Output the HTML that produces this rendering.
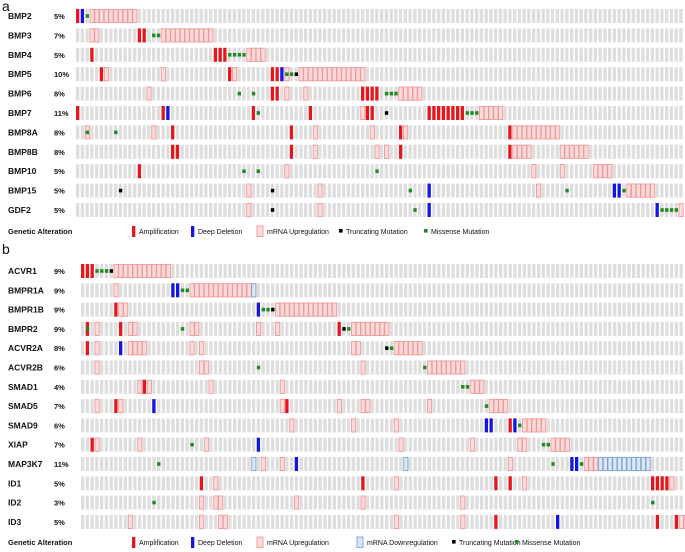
<!DOCTYPE html>
<html><head><meta charset="utf-8">
<style>
body{margin:0;background:#fff;}
svg{display:block;font-family:"Liberation Sans",Arial,sans-serif;}
</style></head>
<body>
<svg id="chart" width="685" height="552" viewBox="0 0 685 552"></svg>
<script>
// Panel a data
const genesA = ["BMP2","BMP3","BMP4","BMP5","BMP6","BMP7","BMP8A","BMP8B","BMP10","BMP15","GDF2"];
const pctA = ["5%","7%","5%","10%","8%","11%","8%","8%","5%","5%","5%"];
const altsA = [
 "A0 D1 M2 U3-12",
 "U3-4 A13-14 M16-17 U18-28",
 "A3 A29-31 M32-35 U36-39",
 "A5 U6 U18 A32 U33 A41-42 D43 U44 M44 M45 T46 U47-60",
 "U15 M34 M37 A41-42 U44 U48 A60-63 M65-67 U68-72",
 "A0 A18 D19 A37 M38 A49 U60 A61-62 T65 A74-81 M82-84 U85-89",
 "U2 M2 M8 U16 A20 A45 U50 U62 A68 U69 A91 U92-101",
 "A20-21 A45 U50 U63 U65 A68 A91 U92-95 U102-107",
 "A13 M35 M38 U44 M63 U96 U102 U109-112",
 "T9 U36 T41 U51 M70 D74 U97 M103 D113-114 M115 U116-121",
 "U36 T41 U51 M71 D74 D122 M123-126 U127"
];
const nColsA = 128;
// Panel b data
const genesB = ["ACVR1","BMPR1A","BMPR1B","BMPR2","ACVR2A","ACVR2B","SMAD1","SMAD5","SMAD9","XIAP","MAP3K7","ID1","ID2","ID3"];
const pctB = ["9%","9%","9%","9%","8%","6%","4%","7%","6%","7%","11%","5%","3%","5%"];
const altsB = [
 "A0-2 M3-5 T6 U7-18",
 "U7 D19-20 M21-22 U23-35 N36",
 "A7 U8-9 D37 M38-39 T40 U41-53",
 "A1 M1 U3 A8 U10-11 M21 U23-24 U37 U41 A54 T55 M56 U57-64",
 "A1 U3 D8 U10-13 U23 U25 U57-58 T64 M65 U66-71",
 "U3 U25-26 M37 U59 M72 U73-80",
 "U12 A13 U14 U27 U42 M80-81 U82-84",
 "U3 A7 U8 D15 U42 A43 U54 U59-60 U73 M85 U86-89",
 "U44 U57 U66 D85-86 A90 D91 M92 U93-97",
 "A2 U3 U12 M23 U26 D37 U67 U82 U92-93 M97-98 U99-102",
 "M16 N36 U38 U42 D45 N68 U90 M99 D103-104 M105 U106-108 N109-119",
 "A25 U28 A59 U66 A87 A90 U93 A120-123 U124",
 "M15 U25 U28-29 U45 U59 U80 M120",
 "U10 U25 U29-30 U66 U80 A87 D100 A121 A125 U126-127"
];
const nColsB = 127;

const NS="http://www.w3.org/2000/svg";
const svg=document.getElementById('chart');
const COL={A:"#e8151b",D:"#1414e6",M:"#1f8a1f",T:"#000",UF:"#fbdada",US:"#ee9a9a",NF:"#dbe6f4",NS:"#7ea4cf",G:"#dedede"};
function el(tag,attrs,parent){const e=document.createElementNS(NS,tag);for(const k in attrs)e.setAttribute(k,attrs[k]);(parent||svg).appendChild(e);return e;}
function txt(x,y,s,size,weight,parent){const t=el('text',{x:x,y:y,'font-size':size,'font-weight':weight||'normal',fill:'#111'},parent);t.textContent=s;return t;}
function parse(str){const out=[];str.split(' ').forEach(tok=>{const type=tok[0];const r=tok.slice(1).split('-').map(Number);const a=r[0],b=r.length>1?r[1]:r[0];for(let c=a;c<=b;c++)out.push([c,type]);});return out;}

function panel(genes,pcts,alts,nCols,x0,y0,rowPitch,pitch,letter,letterY){
  txt(2,letterY,letter,14,'normal');
  const xs=c=>x0+c*pitch;
  genes.forEach((g,i)=>{
    const cy=y0+i*rowPitch;
    const grp=el('g',{});
    
    
    const lab=txt(8,cy+3,g,8.5,'bold',grp);
    
    
    const p=txt(54,cy+3,pcts[i],7.5,'bold',grp);
    
    
    for(let c=0;c<nCols;c++){el('rect',{x:xs(c),y:cy-7,width:3.3,height:14,fill:COL.G},grp);}
    const items=parse(alts[i]);
    const order={U:0,N:0,A:1,D:1,M:2,T:2};
    items.sort((a,b)=>order[a[1]]-order[b[1]]);
    items.forEach(([c,t])=>{
      let r;
      if(t==='U'||t==='N'){r=el('rect',{x:xs(c)-0.3,y:cy-6.6,width:pitch-0.5,height:13.2,fill:t==='U'?COL.UF:COL.NF,stroke:t==='U'?COL.US:COL.NS,'stroke-width':0.9},grp);}
      else if(t==='A'||t==='D'){r=el('rect',{x:xs(c),y:cy-7,width:3.3,height:14,fill:COL[t]},grp);}
      else {r=el('rect',{x:xs(c)+0.1,y:cy-1.8,width:3.4,height:3.6,fill:COL[t]},grp);}
      
      
    });
  });
}
panel(genesA,pctA,altsA,nColsA,76,16,19.4,4.75,'a',11);
panel(genesB,pctB,altsB,nColsB,81,271,19.3,4.75,'b',254);

function legend(y,entries){
  const g=el('g',{});
  
  
  txt(8,y+3,'Genetic Alteration',7.5,'bold',g);
  entries.forEach(([x,t,label])=>{
    const e=el('g',{},g);
    
    
    if(t==='A'||t==='D')el('rect',{x:x,y:y-5,width:3.3,height:11,fill:COL[t]},e);
    else if(t==='U'||t==='N')el('rect',{x:x,y:y-5,width:6,height:10.5,fill:t==='U'?COL.UF:COL.NF,stroke:t==='U'?COL.US:COL.NS,'stroke-width':0.9},e);
    else el('rect',{x:x,y:y-2,width:3.6,height:3.6,fill:COL[t]},e);
    txt(x+(t==='U'||t==='N'?10:7),y+3,label,7,'normal',e);
  });
}
legend(231,[[132,'A','Amplification'],[191,'D','Deep Deletion'],[257,'U','mRNA Upregulation'],[339,'T','Truncating Mutation'],[424,'M','Missense Mutation']]);
legend(542,[[132,'A','Amplification'],[191,'D','Deep Deletion'],[257,'U','mRNA Upregulation'],[357,'N','mRNA Downregulation'],[452,'T','Truncating Mutation'],[515,'M','Missense Mutation']]);
</script>
</body></html>
